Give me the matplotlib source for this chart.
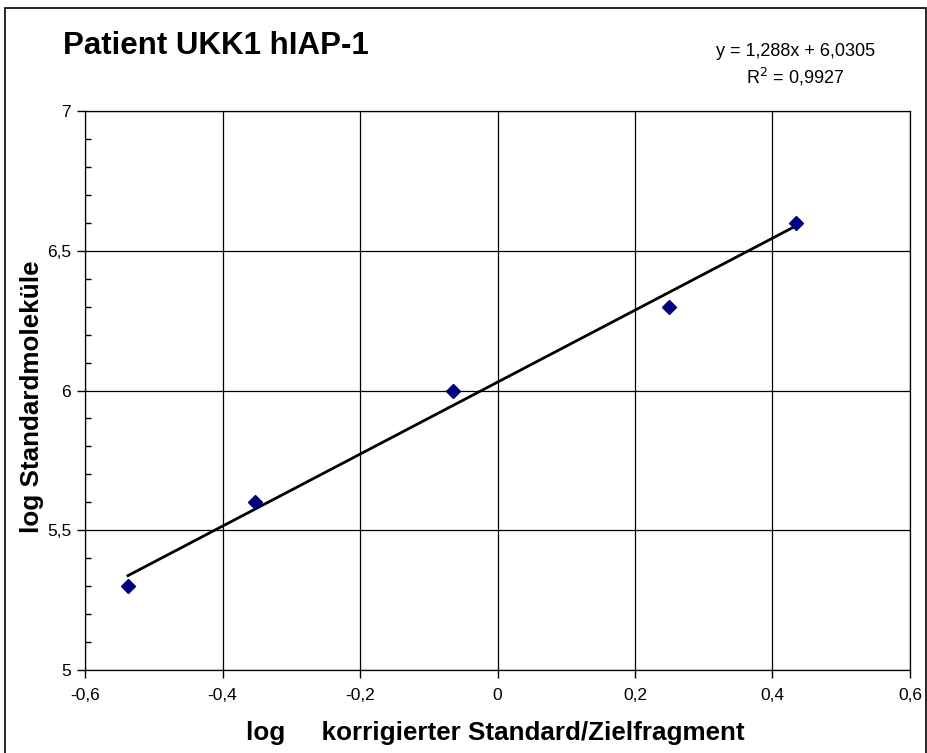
import numpy as np
import matplotlib
matplotlib.use('Agg')
from matplotlib import pyplot as plt
from matplotlib.ticker import FuncFormatter, MultipleLocator
from matplotlib.patches import Rectangle

plt.rcParams['font.family'] = ['Liberation Sans', 'DejaVu Sans']

# data
x_vals = [-0.5375, -0.353, -0.0647, 0.250, 0.434]
y_vals = [5.3, 5.6, 6.0, 6.3, 6.6]
x_ticks = [-0.6, -0.4, -0.2, 0, 0.2, 0.4, 0.6]
y_ticks = [5, 5.5, 6, 6.5, 7]

def komma(v, pos):
    s = ('%g' % round(v, 3)).replace('.', ',')
    return '0' if s in ('-0', '0') else s

fig = plt.figure(figsize=(9.28, 7.53), dpi=100)
ax = fig.add_axes([0.0916, 0.1102, 0.8890, 0.7424])

# linear trendline (Excel style)
slope, icpt = np.polyfit(x_vals, y_vals, 1)
xs = np.array([min(x_vals), max(x_vals)])
ax.plot(xs, slope * xs + icpt, color='black', lw=2, zorder=3)
ax.plot(x_vals, y_vals, linestyle='none', marker='D', color='#000080',
        markersize=7.5, zorder=4)

ax.set_xlim(-0.6, 0.6)
ax.set_ylim(5, 7)
ax.set_xticks(x_ticks)
ax.set_yticks(y_ticks)
ax.yaxis.set_minor_locator(MultipleLocator(0.1))
ax.xaxis.set_major_formatter(FuncFormatter(komma))
ax.yaxis.set_major_formatter(FuncFormatter(komma))
ax.tick_params(axis='both', which='major', direction='out', length=6,
               width=1, labelsize=12.5, color='black')
ax.tick_params(axis='x', pad=7)
ax.tick_params(axis='y', pad=4)
ax.tick_params(axis='y', which='minor', direction='in', length=4, width=1)
ax.grid(True, which='major', color='black', lw=0.9)
for sp in ax.spines.values():
    sp.set_color('black')
    sp.set_linewidth(0.9)

fig.text(0.068, 0.939, 'Patient UKK1 hIAP-1', fontsize=22.5, fontweight='bold',
         ha='left', va='center')
fig.text(0.857, 0.931, 'y = 1,288x + 6,0305', fontsize=13, ha='center', va='center')
fig.text(0.857, 0.898, 'R$^2$ = 0,9927', fontsize=13, ha='center', va='center')
fig.text(0.5334, 0.0266, 'log     korrigierter Standard/Zielfragment',
         fontsize=18.7, fontweight='bold', ha='center', va='center')
fig.text(0.0345, 0.4728, 'log Standardmoleküle', fontsize=18.7, fontweight='bold',
         rotation=90, ha='center', va='center')

fig.patches.append(Rectangle((5 / 928, -0.01), 921 / 928, 1 - 8 / 753 + 0.01,
                             transform=fig.transFigure, fill=False,
                             edgecolor='black', lw=1.2))

plt.savefig('out.png', dpi=100)
